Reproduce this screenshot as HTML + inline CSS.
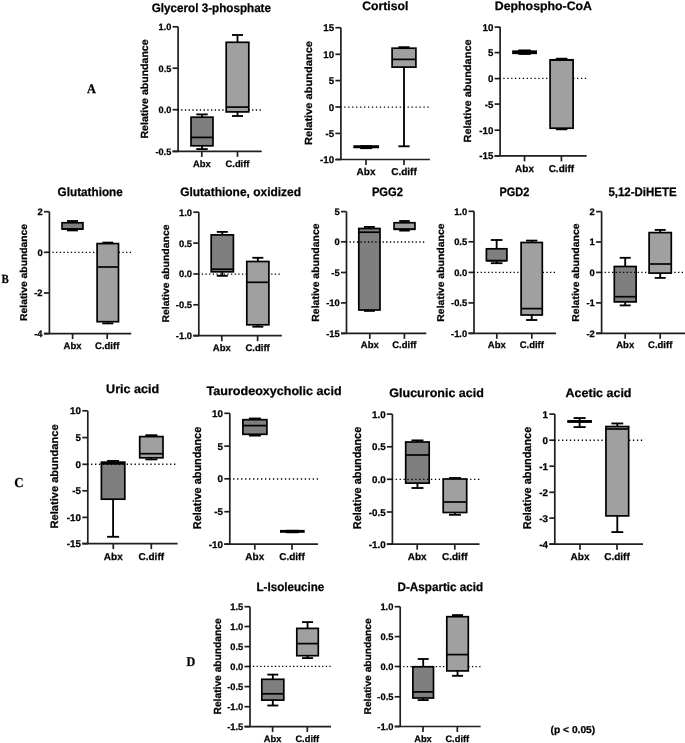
<!DOCTYPE html>
<html><head><meta charset="utf-8"><style>
html,body{margin:0;padding:0;background:#fff;}
body{width:685px;height:743px;overflow:hidden;}
svg{display:block;will-change:transform;}
text{font-family:"Liberation Sans",sans-serif;font-weight:bold;fill:#000;stroke:#000;stroke-width:0.25px;text-rendering:geometricPrecision;}
.ax{stroke:#1f1f1f;stroke-width:1.7;}
.wh{stroke:#000;stroke-width:1.85;}
.bx{stroke:#000;stroke-width:1.7;}
.md{stroke:#000;stroke-width:1.7;}
.dot{stroke:#000;stroke-width:1.35;}
.yt{font-size:9px;text-anchor:end;}
.xl{font-size:9.5px;text-anchor:middle;}
.tt{font-size:12.2px;}
.yl{font-size:10px;text-anchor:middle;}
.lt{font-family:"Liberation Serif",serif;font-size:12.5px;}
.pv{font-size:10px;}
</style></head><body>
<svg width="685" height="743" viewBox="0 0 685 743">
<g><line x1="178.1" y1="26.8" x2="178.1" y2="151.4" class="ax"/><line x1="172.6" y1="26.8" x2="178.1" y2="26.8" class="ax"/><text x="171.3" y="30.2" class="yt" style="font-size:9.2px">1.0</text><line x1="172.6" y1="68.2" x2="178.1" y2="68.2" class="ax"/><text x="171.3" y="71.6" class="yt" style="font-size:9.2px">0.5</text><line x1="172.6" y1="109.7" x2="178.1" y2="109.7" class="ax"/><text x="171.3" y="113.1" class="yt" style="font-size:9.2px">0.0</text><line x1="172.6" y1="151.4" x2="178.1" y2="151.4" class="ax"/><text x="171.3" y="154.8" class="yt" style="font-size:9.2px">-0.5</text><line x1="172.6" y1="151.4" x2="261.7" y2="151.4" class="ax"/><line x1="201.8" y1="151.4" x2="201.8" y2="156.9" class="ax"/><line x1="237.5" y1="151.4" x2="237.5" y2="156.9" class="ax"/><line x1="202" y1="114.4" x2="202" y2="117.2" class="wh"/><line x1="202" y1="145.8" x2="202" y2="149.1" class="wh"/><line x1="196.3" y1="114.4" x2="207.7" y2="114.4" class="wh"/><line x1="196.3" y1="149.1" x2="207.7" y2="149.1" class="wh"/><rect x="191" y="117.2" width="22" height="28.6" fill="#7f7f7f" class="bx"/><line x1="191" y1="137.4" x2="213" y2="137.4" class="md"/><line x1="177.45" y1="110" x2="261.7" y2="110" class="dot" stroke-dasharray="1.3 2.43"/><line x1="237.5" y1="35" x2="237.5" y2="42.3" class="wh"/><line x1="237.5" y1="111.9" x2="237.5" y2="116" class="wh"/><line x1="232" y1="35" x2="243" y2="35" class="wh"/><line x1="232" y1="116" x2="243" y2="116" class="wh"/><rect x="226.2" y="42.3" width="22.6" height="69.6" fill="#a0a0a0" class="bx"/><line x1="226.2" y1="107.1" x2="248.8" y2="107.1" class="md"/><text x="201.8" y="166.6" class="xl" style="font-size:9.4px">Abx</text><text x="237.5" y="166.6" class="xl" style="font-size:9.4px">C.diff</text><text x="151.8" y="11.7" class="tt" textLength="119.2" lengthAdjust="spacingAndGlyphs">Glycerol 3-phosphate</text><text transform="translate(147.85,88.95) rotate(-90)" class="yl" style="font-size:10.32px" textLength="99.1" lengthAdjust="spacingAndGlyphs">Relative abundance</text></g>
<g><line x1="340.9" y1="27.7" x2="340.9" y2="159.5" class="ax"/><line x1="335.4" y1="27.7" x2="340.9" y2="27.7" class="ax"/><text x="334.1" y="31.29" class="yt" style="font-size:9.7px">15</text><line x1="335.4" y1="54.3" x2="340.9" y2="54.3" class="ax"/><text x="334.1" y="57.89" class="yt" style="font-size:9.7px">10</text><line x1="335.4" y1="80.6" x2="340.9" y2="80.6" class="ax"/><text x="334.1" y="84.19" class="yt" style="font-size:9.7px">5</text><line x1="335.4" y1="107" x2="340.9" y2="107" class="ax"/><text x="334.1" y="110.59" class="yt" style="font-size:9.7px">0</text><line x1="335.4" y1="133.4" x2="340.9" y2="133.4" class="ax"/><text x="334.1" y="136.99" class="yt" style="font-size:9.7px">-5</text><line x1="335.4" y1="159.5" x2="340.9" y2="159.5" class="ax"/><text x="334.1" y="163.09" class="yt" style="font-size:9.7px">-10</text><line x1="335.4" y1="159.5" x2="429.9" y2="159.5" class="ax"/><line x1="366" y1="159.5" x2="366" y2="165" class="ax"/><line x1="404" y1="159.5" x2="404" y2="165" class="ax"/><line x1="366.2" y1="146.1" x2="366.2" y2="146.1" class="wh"/><line x1="366.2" y1="147.4" x2="366.2" y2="148.2" class="wh"/><line x1="360.2" y1="146.1" x2="372.2" y2="146.1" class="wh"/><line x1="360.2" y1="148.2" x2="372.2" y2="148.2" class="wh"/><rect x="354.2" y="146.1" width="24" height="1.3" fill="#7f7f7f" class="bx"/><line x1="354.2" y1="146.8" x2="378.2" y2="146.8" class="md"/><line x1="340.25" y1="107.1" x2="429.9" y2="107.1" class="dot" stroke-dasharray="1.3 2.66"/><line x1="404" y1="47.2" x2="404" y2="48.2" class="wh"/><line x1="404" y1="67.1" x2="404" y2="146.3" class="wh"/><line x1="398.4" y1="47.2" x2="409.6" y2="47.2" class="wh"/><line x1="398.4" y1="146.3" x2="409.6" y2="146.3" class="wh"/><rect x="392.1" y="48.2" width="23.8" height="18.9" fill="#a0a0a0" class="bx"/><line x1="392.1" y1="59.4" x2="415.9" y2="59.4" class="md"/><text x="366" y="175.1" class="xl" style="font-size:10px">Abx</text><text x="404" y="175.1" class="xl" style="font-size:10px">C.diff</text><text x="362.2" y="10.4" class="tt" textLength="46.2" lengthAdjust="spacingAndGlyphs">Cortisol</text><text transform="translate(311.85,93) rotate(-90)" class="yl" style="font-size:10.32px" textLength="104" lengthAdjust="spacingAndGlyphs">Relative abundance</text></g>
<g><line x1="500.1" y1="27.1" x2="500.1" y2="155.9" class="ax"/><line x1="494.6" y1="27.1" x2="500.1" y2="27.1" class="ax"/><text x="493.3" y="30.69" class="yt" style="font-size:9.7px">10</text><line x1="494.6" y1="52.6" x2="500.1" y2="52.6" class="ax"/><text x="493.3" y="56.19" class="yt" style="font-size:9.7px">5</text><line x1="494.6" y1="78.6" x2="500.1" y2="78.6" class="ax"/><text x="493.3" y="82.19" class="yt" style="font-size:9.7px">0</text><line x1="494.6" y1="104.1" x2="500.1" y2="104.1" class="ax"/><text x="493.3" y="107.69" class="yt" style="font-size:9.7px">-5</text><line x1="494.6" y1="130.2" x2="500.1" y2="130.2" class="ax"/><text x="493.3" y="133.79" class="yt" style="font-size:9.7px">-10</text><line x1="494.6" y1="155.9" x2="500.1" y2="155.9" class="ax"/><text x="493.3" y="159.49" class="yt" style="font-size:9.7px">-15</text><line x1="494.6" y1="155.9" x2="586.7" y2="155.9" class="ax"/><line x1="524.5" y1="155.9" x2="524.5" y2="161.4" class="ax"/><line x1="561.4" y1="155.9" x2="561.4" y2="161.4" class="ax"/><line x1="524.55" y1="50.4" x2="524.55" y2="51.2" class="wh"/><line x1="524.55" y1="53.3" x2="524.55" y2="54" class="wh"/><line x1="518.35" y1="50.4" x2="530.75" y2="50.4" class="wh"/><line x1="518.35" y1="54" x2="530.75" y2="54" class="wh"/><rect x="513" y="51.2" width="23.1" height="2.1" fill="#7f7f7f" class="bx"/><line x1="513" y1="52.2" x2="536.1" y2="52.2" class="md"/><line x1="499.45" y1="78.4" x2="586.7" y2="78.4" class="dot" stroke-dasharray="1.3 2.58"/><line x1="561.6" y1="58.7" x2="561.6" y2="59.8" class="wh"/><line x1="561.6" y1="128.2" x2="561.6" y2="129.3" class="wh"/><line x1="555.8" y1="58.7" x2="567.4" y2="58.7" class="wh"/><line x1="555.8" y1="129.3" x2="567.4" y2="129.3" class="wh"/><rect x="550.1" y="59.8" width="23" height="68.4" fill="#a0a0a0" class="bx"/><line x1="550.1" y1="60.1" x2="573.1" y2="60.1" class="md"/><text x="524.5" y="171.6" class="xl" style="font-size:10px">Abx</text><text x="561.4" y="171.6" class="xl" style="font-size:10px">C.diff</text><text x="494.8" y="10.4" class="tt" textLength="97.2" lengthAdjust="spacingAndGlyphs">Dephospho-CoA</text><text transform="translate(471.45,90.95) rotate(-90)" class="yl" style="font-size:10.32px" textLength="103.1" lengthAdjust="spacingAndGlyphs">Relative abundance</text></g>
<g><line x1="49.4" y1="211.7" x2="49.4" y2="333.6" class="ax"/><line x1="43.9" y1="211.7" x2="49.4" y2="211.7" class="ax"/><text x="42.6" y="215.18" class="yt" style="font-size:9.4px">2</text><line x1="43.9" y1="252.3" x2="49.4" y2="252.3" class="ax"/><text x="42.6" y="255.78" class="yt" style="font-size:9.4px">0</text><line x1="43.9" y1="293" x2="49.4" y2="293" class="ax"/><text x="42.6" y="296.48" class="yt" style="font-size:9.4px">-2</text><line x1="43.9" y1="333.6" x2="49.4" y2="333.6" class="ax"/><text x="42.6" y="337.08" class="yt" style="font-size:9.4px">-4</text><line x1="43.9" y1="333.6" x2="131.2" y2="333.6" class="ax"/><line x1="72.6" y1="333.6" x2="72.6" y2="339.1" class="ax"/><line x1="107.2" y1="333.6" x2="107.2" y2="339.1" class="ax"/><line x1="72.5" y1="221" x2="72.5" y2="222.75" class="wh"/><line x1="72.5" y1="229.05" x2="72.5" y2="230.4" class="wh"/><line x1="67" y1="221" x2="78" y2="221" class="wh"/><line x1="67" y1="230.4" x2="78" y2="230.4" class="wh"/><rect x="62.05" y="222.75" width="20.9" height="6.3" fill="#7f7f7f" class="bx"/><line x1="62.05" y1="229.05" x2="82.95" y2="229.05" class="md"/><line x1="48.75" y1="252.4" x2="131.2" y2="252.4" class="dot" stroke-dasharray="1.3 2.38"/><line x1="107.8" y1="242.6" x2="107.8" y2="243.6" class="wh"/><line x1="107.8" y1="321.7" x2="107.8" y2="323.4" class="wh"/><line x1="102.3" y1="242.6" x2="113.3" y2="242.6" class="wh"/><line x1="102.3" y1="323.4" x2="113.3" y2="323.4" class="wh"/><rect x="97.1" y="243.6" width="21.4" height="78.1" fill="#a0a0a0" class="bx"/><line x1="97.1" y1="267" x2="118.5" y2="267" class="md"/><text x="72.6" y="348.5" class="xl" style="font-size:9.5px">Abx</text><text x="107.2" y="348.5" class="xl" style="font-size:9.5px">C.diff</text><text x="57.6" y="195.7" class="tt" textLength="65.2" lengthAdjust="spacingAndGlyphs">Glutathione</text><text transform="translate(27.15,272.4) rotate(-90)" class="yl" style="font-size:9.94px" textLength="97" lengthAdjust="spacingAndGlyphs">Relative abundance</text></g>
<g><line x1="198.8" y1="212.2" x2="198.8" y2="335.7" class="ax"/><line x1="193.3" y1="212.2" x2="198.8" y2="212.2" class="ax"/><text x="192" y="215.68" class="yt" style="font-size:9.4px">1.0</text><line x1="193.3" y1="243.1" x2="198.8" y2="243.1" class="ax"/><text x="192" y="246.58" class="yt" style="font-size:9.4px">0.5</text><line x1="193.3" y1="274" x2="198.8" y2="274" class="ax"/><text x="192" y="277.48" class="yt" style="font-size:9.4px">0.0</text><line x1="193.3" y1="304.8" x2="198.8" y2="304.8" class="ax"/><text x="192" y="308.28" class="yt" style="font-size:9.4px">-0.5</text><line x1="193.3" y1="335.7" x2="198.8" y2="335.7" class="ax"/><text x="192" y="339.18" class="yt" style="font-size:9.4px">-1.0</text><line x1="193.3" y1="335.7" x2="281.8" y2="335.7" class="ax"/><line x1="221.8" y1="335.7" x2="221.8" y2="341.2" class="ax"/><line x1="257.6" y1="335.7" x2="257.6" y2="341.2" class="ax"/><line x1="222.3" y1="231.9" x2="222.3" y2="234.9" class="wh"/><line x1="222.3" y1="271.8" x2="222.3" y2="275.8" class="wh"/><line x1="216.8" y1="231.9" x2="227.8" y2="231.9" class="wh"/><line x1="216.8" y1="275.8" x2="227.8" y2="275.8" class="wh"/><rect x="211.2" y="234.9" width="22.2" height="36.9" fill="#7f7f7f" class="bx"/><line x1="211.2" y1="269.2" x2="233.4" y2="269.2" class="md"/><line x1="198.15" y1="274.1" x2="281.8" y2="274.1" class="dot" stroke-dasharray="1.3 2.35"/><line x1="257.85" y1="257.8" x2="257.85" y2="261.5" class="wh"/><line x1="257.85" y1="324.8" x2="257.85" y2="326.7" class="wh"/><line x1="252.35" y1="257.8" x2="263.35" y2="257.8" class="wh"/><line x1="252.35" y1="326.7" x2="263.35" y2="326.7" class="wh"/><rect x="246.8" y="261.5" width="22.1" height="63.3" fill="#a0a0a0" class="bx"/><line x1="246.8" y1="282.3" x2="268.9" y2="282.3" class="md"/><text x="221.8" y="351" class="xl" style="font-size:9.5px">Abx</text><text x="257.6" y="351" class="xl" style="font-size:9.5px">C.diff</text><text x="180.2" y="196.4" class="tt" textLength="120.8" lengthAdjust="spacingAndGlyphs">Glutathione, oxidized</text><text transform="translate(168.65,273.5) rotate(-90)" class="yl" style="font-size:9.81px" textLength="98" lengthAdjust="spacingAndGlyphs">Relative abundance</text></g>
<g><line x1="346.5" y1="211.6" x2="346.5" y2="333.4" class="ax"/><line x1="341" y1="211.6" x2="346.5" y2="211.6" class="ax"/><text x="339.7" y="215.08" class="yt" style="font-size:9.4px">5</text><line x1="341" y1="241.8" x2="346.5" y2="241.8" class="ax"/><text x="339.7" y="245.28" class="yt" style="font-size:9.4px">0</text><line x1="341" y1="272.5" x2="346.5" y2="272.5" class="ax"/><text x="339.7" y="275.98" class="yt" style="font-size:9.4px">-5</text><line x1="341" y1="302.9" x2="346.5" y2="302.9" class="ax"/><text x="339.7" y="306.38" class="yt" style="font-size:9.4px">-10</text><line x1="341" y1="333.4" x2="346.5" y2="333.4" class="ax"/><text x="339.7" y="336.88" class="yt" style="font-size:9.4px">-15</text><line x1="341" y1="333.4" x2="426.3" y2="333.4" class="ax"/><line x1="369.8" y1="333.4" x2="369.8" y2="338.9" class="ax"/><line x1="404.4" y1="333.4" x2="404.4" y2="338.9" class="ax"/><line x1="369.4" y1="226.9" x2="369.4" y2="228.5" class="wh"/><line x1="369.4" y1="310" x2="369.4" y2="310.9" class="wh"/><line x1="363.9" y1="226.9" x2="374.9" y2="226.9" class="wh"/><line x1="363.9" y1="310.9" x2="374.9" y2="310.9" class="wh"/><rect x="358.8" y="228.5" width="21.2" height="81.5" fill="#7f7f7f" class="bx"/><line x1="358.8" y1="232.2" x2="380" y2="232.2" class="md"/><line x1="345.85" y1="242" x2="426.3" y2="242" class="dot" stroke-dasharray="1.3 2.37"/><line x1="404.5" y1="221" x2="404.5" y2="222.75" class="wh"/><line x1="404.5" y1="229.25" x2="404.5" y2="230.6" class="wh"/><line x1="399.2" y1="221" x2="409.8" y2="221" class="wh"/><line x1="399.2" y1="230.6" x2="409.8" y2="230.6" class="wh"/><rect x="394.05" y="222.75" width="20.9" height="6.5" fill="#a0a0a0" class="bx"/><line x1="394.05" y1="229.25" x2="414.95" y2="229.25" class="md"/><text x="369.8" y="348.3" class="xl" style="font-size:9.5px">Abx</text><text x="404.4" y="348.3" class="xl" style="font-size:9.5px">C.diff</text><text x="371.9" y="195.6" class="tt" textLength="31.1" lengthAdjust="spacingAndGlyphs">PGG2</text><text transform="translate(319.45,272.55) rotate(-90)" class="yl" style="font-size:10.32px" textLength="98.3" lengthAdjust="spacingAndGlyphs">Relative abundance</text></g>
<g><line x1="474" y1="211.3" x2="474" y2="333.3" class="ax"/><line x1="468.5" y1="211.3" x2="474" y2="211.3" class="ax"/><text x="467.2" y="214.78" class="yt" style="font-size:9.4px">1.0</text><line x1="468.5" y1="241.8" x2="474" y2="241.8" class="ax"/><text x="467.2" y="245.28" class="yt" style="font-size:9.4px">0.5</text><line x1="468.5" y1="272.4" x2="474" y2="272.4" class="ax"/><text x="467.2" y="275.88" class="yt" style="font-size:9.4px">0.0</text><line x1="468.5" y1="302.9" x2="474" y2="302.9" class="ax"/><text x="467.2" y="306.38" class="yt" style="font-size:9.4px">-0.5</text><line x1="468.5" y1="333.3" x2="474" y2="333.3" class="ax"/><text x="467.2" y="336.78" class="yt" style="font-size:9.4px">-1.0</text><line x1="468.5" y1="333.3" x2="556.1" y2="333.3" class="ax"/><line x1="496.8" y1="333.3" x2="496.8" y2="338.8" class="ax"/><line x1="531.8" y1="333.3" x2="531.8" y2="338.8" class="ax"/><line x1="496.65" y1="240" x2="496.65" y2="248.8" class="wh"/><line x1="496.65" y1="260.7" x2="496.65" y2="263.2" class="wh"/><line x1="490.85" y1="240" x2="502.45" y2="240" class="wh"/><line x1="490.85" y1="263.2" x2="502.45" y2="263.2" class="wh"/><rect x="486.4" y="248.8" width="20.5" height="11.9" fill="#7f7f7f" class="bx"/><line x1="486.4" y1="260.7" x2="506.9" y2="260.7" class="md"/><line x1="473.35" y1="272.4" x2="556.1" y2="272.4" class="dot" stroke-dasharray="1.3 2.35"/><line x1="531.7" y1="240.6" x2="531.7" y2="242.5" class="wh"/><line x1="531.7" y1="315" x2="531.7" y2="320" class="wh"/><line x1="526.05" y1="240.6" x2="537.35" y2="240.6" class="wh"/><line x1="526.05" y1="320" x2="537.35" y2="320" class="wh"/><rect x="521.1" y="242.5" width="21.2" height="72.5" fill="#a0a0a0" class="bx"/><line x1="521.1" y1="308.6" x2="542.3" y2="308.6" class="md"/><text x="496.8" y="348.3" class="xl" style="font-size:9.5px">Abx</text><text x="531.8" y="348.3" class="xl" style="font-size:9.5px">C.diff</text><text x="499.4" y="195.6" class="tt" textLength="29.9" lengthAdjust="spacingAndGlyphs">PGD2</text><text transform="translate(443.85,272.55) rotate(-90)" class="yl" style="font-size:9.94px" textLength="98.3" lengthAdjust="spacingAndGlyphs">Relative abundance</text></g>
<g><line x1="601.6" y1="211.6" x2="601.6" y2="333.3" class="ax"/><line x1="596.1" y1="211.6" x2="601.6" y2="211.6" class="ax"/><text x="594.8" y="215.08" class="yt" style="font-size:9.4px">2</text><line x1="596.1" y1="242" x2="601.6" y2="242" class="ax"/><text x="594.8" y="245.48" class="yt" style="font-size:9.4px">1</text><line x1="596.1" y1="272.4" x2="601.6" y2="272.4" class="ax"/><text x="594.8" y="275.88" class="yt" style="font-size:9.4px">0</text><line x1="596.1" y1="302.9" x2="601.6" y2="302.9" class="ax"/><text x="594.8" y="306.38" class="yt" style="font-size:9.4px">-1</text><line x1="596.1" y1="333.3" x2="601.6" y2="333.3" class="ax"/><text x="594.8" y="336.78" class="yt" style="font-size:9.4px">-2</text><line x1="596.1" y1="333.3" x2="685" y2="333.3" class="ax"/><line x1="625.2" y1="333.3" x2="625.2" y2="338.8" class="ax"/><line x1="660.2" y1="333.3" x2="660.2" y2="338.8" class="ax"/><line x1="625.2" y1="257.8" x2="625.2" y2="266.5" class="wh"/><line x1="625.2" y1="301.9" x2="625.2" y2="305.4" class="wh"/><line x1="619.7" y1="257.8" x2="630.7" y2="257.8" class="wh"/><line x1="619.7" y1="305.4" x2="630.7" y2="305.4" class="wh"/><rect x="614.3" y="266.5" width="21.8" height="35.4" fill="#7f7f7f" class="bx"/><line x1="614.3" y1="296.7" x2="636.1" y2="296.7" class="md"/><line x1="600.95" y1="272.4" x2="685" y2="272.4" class="dot" stroke-dasharray="1.3 2.37"/><line x1="660.2" y1="229.9" x2="660.2" y2="232.6" class="wh"/><line x1="660.2" y1="273.1" x2="660.2" y2="277.9" class="wh"/><line x1="654.7" y1="229.9" x2="665.7" y2="229.9" class="wh"/><line x1="654.7" y1="277.9" x2="665.7" y2="277.9" class="wh"/><rect x="649.1" y="232.6" width="22.2" height="40.5" fill="#a0a0a0" class="bx"/><line x1="649.1" y1="264" x2="671.3" y2="264" class="md"/><text x="625.2" y="348.3" class="xl" style="font-size:9.5px">Abx</text><text x="660.2" y="348.3" class="xl" style="font-size:9.5px">C.diff</text><text x="608.4" y="195.6" class="tt" textLength="68.3" lengthAdjust="spacingAndGlyphs">5,12-DiHETE</text><text transform="translate(579.15,272.55) rotate(-90)" class="yl" style="font-size:9.94px" textLength="98.3" lengthAdjust="spacingAndGlyphs">Relative abundance</text></g>
<g><line x1="87.8" y1="410.8" x2="87.8" y2="543.6" class="ax"/><line x1="82.3" y1="410.8" x2="87.8" y2="410.8" class="ax"/><text x="81" y="414.43" class="yt" style="font-size:9.8px">10</text><line x1="82.3" y1="437.6" x2="87.8" y2="437.6" class="ax"/><text x="81" y="441.23" class="yt" style="font-size:9.8px">5</text><line x1="82.3" y1="464.3" x2="87.8" y2="464.3" class="ax"/><text x="81" y="467.93" class="yt" style="font-size:9.8px">0</text><line x1="82.3" y1="490.8" x2="87.8" y2="490.8" class="ax"/><text x="81" y="494.43" class="yt" style="font-size:9.8px">-5</text><line x1="82.3" y1="517.4" x2="87.8" y2="517.4" class="ax"/><text x="81" y="521.03" class="yt" style="font-size:9.8px">-10</text><line x1="82.3" y1="543.6" x2="87.8" y2="543.6" class="ax"/><text x="81" y="547.23" class="yt" style="font-size:9.8px">-15</text><line x1="82.3" y1="543.6" x2="177.6" y2="543.6" class="ax"/><line x1="113.3" y1="543.6" x2="113.3" y2="549.1" class="ax"/><line x1="151.3" y1="543.6" x2="151.3" y2="549.1" class="ax"/><line x1="113.1" y1="460.9" x2="113.1" y2="462.15" class="wh"/><line x1="113.1" y1="499.2" x2="113.1" y2="536.8" class="wh"/><line x1="107.1" y1="460.9" x2="119.1" y2="460.9" class="wh"/><line x1="107.1" y1="536.8" x2="119.1" y2="536.8" class="wh"/><rect x="101.4" y="462.15" width="23.4" height="37.05" fill="#7f7f7f" class="bx"/><line x1="101.4" y1="463.8" x2="124.8" y2="463.8" class="md"/><line x1="87.15" y1="464.2" x2="177.6" y2="464.2" class="dot" stroke-dasharray="1.3 2.65"/><line x1="151.35" y1="435.2" x2="151.35" y2="436.6" class="wh"/><line x1="151.35" y1="457.8" x2="151.35" y2="459.4" class="wh"/><line x1="145.35" y1="435.2" x2="157.35" y2="435.2" class="wh"/><line x1="145.35" y1="459.4" x2="157.35" y2="459.4" class="wh"/><rect x="139.7" y="436.6" width="23.3" height="21.2" fill="#a0a0a0" class="bx"/><line x1="139.7" y1="453.7" x2="163" y2="453.7" class="md"/><text x="113.3" y="560.4" class="xl" style="font-size:10px">Abx</text><text x="151.3" y="560.4" class="xl" style="font-size:10px">C.diff</text><text x="106.1" y="393.4" class="tt" textLength="53.1" lengthAdjust="spacingAndGlyphs">Uric acid</text><text transform="translate(58.25,476.4) rotate(-90)" class="yl" style="font-size:10.83px" textLength="104" lengthAdjust="spacingAndGlyphs">Relative abundance</text></g>
<g><line x1="229.8" y1="413.3" x2="229.8" y2="544.2" class="ax"/><line x1="224.3" y1="413.3" x2="229.8" y2="413.3" class="ax"/><text x="223" y="416.93" class="yt" style="font-size:9.8px">10</text><line x1="224.3" y1="446.1" x2="229.8" y2="446.1" class="ax"/><text x="223" y="449.73" class="yt" style="font-size:9.8px">5</text><line x1="224.3" y1="478.8" x2="229.8" y2="478.8" class="ax"/><text x="223" y="482.43" class="yt" style="font-size:9.8px">0</text><line x1="224.3" y1="511.7" x2="229.8" y2="511.7" class="ax"/><text x="223" y="515.33" class="yt" style="font-size:9.8px">-5</text><line x1="224.3" y1="544.2" x2="229.8" y2="544.2" class="ax"/><text x="223" y="547.83" class="yt" style="font-size:9.8px">-10</text><line x1="224.3" y1="544.2" x2="318" y2="544.2" class="ax"/><line x1="254.8" y1="544.2" x2="254.8" y2="549.7" class="ax"/><line x1="292" y1="544.2" x2="292" y2="549.7" class="ax"/><line x1="254.9" y1="418.5" x2="254.9" y2="419.7" class="wh"/><line x1="254.9" y1="434.3" x2="254.9" y2="435.6" class="wh"/><line x1="248.9" y1="418.5" x2="260.9" y2="418.5" class="wh"/><line x1="248.9" y1="435.6" x2="260.9" y2="435.6" class="wh"/><rect x="242.9" y="419.7" width="24" height="14.6" fill="#7f7f7f" class="bx"/><line x1="242.9" y1="425.6" x2="266.9" y2="425.6" class="md"/><line x1="229.15" y1="479" x2="318" y2="479" class="dot" stroke-dasharray="1.3 2.68"/><line x1="292.35" y1="530.75" x2="292.35" y2="530.75" class="wh"/><line x1="292.35" y1="531.95" x2="292.35" y2="532.3" class="wh"/><line x1="285.95" y1="530.75" x2="298.75" y2="530.75" class="wh"/><line x1="285.95" y1="532.3" x2="298.75" y2="532.3" class="wh"/><rect x="280.85" y="530.75" width="23" height="1.2" fill="#a0a0a0" class="bx"/><line x1="280.85" y1="531.35" x2="303.85" y2="531.35" class="md"/><text x="254.8" y="559.8" class="xl" style="font-size:10px">Abx</text><text x="292" y="559.8" class="xl" style="font-size:10px">C.diff</text><text x="206.6" y="395.4" class="tt" textLength="135" lengthAdjust="spacingAndGlyphs">Taurodeoxycholic acid</text><text transform="translate(200.65,478) rotate(-90)" class="yl" style="font-size:11.34px" textLength="102.4" lengthAdjust="spacingAndGlyphs">Relative abundance</text></g>
<g><line x1="392.4" y1="414.1" x2="392.4" y2="544.2" class="ax"/><line x1="386.9" y1="414.1" x2="392.4" y2="414.1" class="ax"/><text x="385.6" y="417.73" class="yt" style="font-size:9.8px">1.0</text><line x1="386.9" y1="446.8" x2="392.4" y2="446.8" class="ax"/><text x="385.6" y="450.43" class="yt" style="font-size:9.8px">0.5</text><line x1="386.9" y1="479.3" x2="392.4" y2="479.3" class="ax"/><text x="385.6" y="482.93" class="yt" style="font-size:9.8px">0.0</text><line x1="386.9" y1="512" x2="392.4" y2="512" class="ax"/><text x="385.6" y="515.63" class="yt" style="font-size:9.8px">-0.5</text><line x1="386.9" y1="544.2" x2="392.4" y2="544.2" class="ax"/><text x="385.6" y="547.83" class="yt" style="font-size:9.8px">-1.0</text><line x1="386.9" y1="544.2" x2="479.5" y2="544.2" class="ax"/><line x1="417.2" y1="544.2" x2="417.2" y2="549.7" class="ax"/><line x1="454.8" y1="544.2" x2="454.8" y2="549.7" class="ax"/><line x1="417.45" y1="440.4" x2="417.45" y2="442" class="wh"/><line x1="417.45" y1="483.1" x2="417.45" y2="488" class="wh"/><line x1="411.45" y1="440.4" x2="423.45" y2="440.4" class="wh"/><line x1="411.45" y1="488" x2="423.45" y2="488" class="wh"/><rect x="405.7" y="442" width="23.5" height="41.1" fill="#7f7f7f" class="bx"/><line x1="405.7" y1="455" x2="429.2" y2="455" class="md"/><line x1="391.75" y1="479.4" x2="479.5" y2="479.4" class="dot" stroke-dasharray="1.3 2.62"/><line x1="454.95" y1="478" x2="454.95" y2="479" class="wh"/><line x1="454.95" y1="512.5" x2="454.95" y2="514.8" class="wh"/><line x1="448.95" y1="478" x2="460.95" y2="478" class="wh"/><line x1="448.95" y1="514.8" x2="460.95" y2="514.8" class="wh"/><rect x="443.2" y="479" width="23.5" height="33.5" fill="#a0a0a0" class="bx"/><line x1="443.2" y1="502" x2="466.7" y2="502" class="md"/><text x="417.2" y="560.3" class="xl" style="font-size:10px">Abx</text><text x="454.8" y="560.3" class="xl" style="font-size:10px">C.diff</text><text x="389.3" y="396.7" class="tt" textLength="94.6" lengthAdjust="spacingAndGlyphs">Glucuronic acid</text><text transform="translate(360.65,478) rotate(-90)" class="yl" style="font-size:11.34px" textLength="102.4" lengthAdjust="spacingAndGlyphs">Relative abundance</text></g>
<g><line x1="554.8" y1="414.1" x2="554.8" y2="544.2" class="ax"/><line x1="549.3" y1="414.1" x2="554.8" y2="414.1" class="ax"/><text x="548" y="417.73" class="yt" style="font-size:9.8px">1</text><line x1="549.3" y1="440.2" x2="554.8" y2="440.2" class="ax"/><text x="548" y="443.83" class="yt" style="font-size:9.8px">0</text><line x1="549.3" y1="466.2" x2="554.8" y2="466.2" class="ax"/><text x="548" y="469.83" class="yt" style="font-size:9.8px">-1</text><line x1="549.3" y1="492.3" x2="554.8" y2="492.3" class="ax"/><text x="548" y="495.93" class="yt" style="font-size:9.8px">-2</text><line x1="549.3" y1="518.1" x2="554.8" y2="518.1" class="ax"/><text x="548" y="521.73" class="yt" style="font-size:9.8px">-3</text><line x1="549.3" y1="544.2" x2="554.8" y2="544.2" class="ax"/><text x="548" y="547.83" class="yt" style="font-size:9.8px">-4</text><line x1="549.3" y1="544.2" x2="643" y2="544.2" class="ax"/><line x1="580" y1="544.2" x2="580" y2="549.7" class="ax"/><line x1="617" y1="544.2" x2="617" y2="549.7" class="ax"/><line x1="579.6" y1="418.05" x2="579.6" y2="420.85" class="wh"/><line x1="579.6" y1="422.05" x2="579.6" y2="427.1" class="wh"/><line x1="573.55" y1="418.05" x2="585.65" y2="418.05" class="wh"/><line x1="573.55" y1="427.1" x2="585.65" y2="427.1" class="wh"/><rect x="568.1" y="420.85" width="23" height="1.2" fill="#7f7f7f" class="bx"/><line x1="568.1" y1="421.45" x2="591.1" y2="421.45" class="md"/><line x1="554.15" y1="440.2" x2="643" y2="440.2" class="dot" stroke-dasharray="1.3 2.64"/><line x1="617.3" y1="423.45" x2="617.3" y2="426.55" class="wh"/><line x1="617.3" y1="515.9" x2="617.3" y2="532.1" class="wh"/><line x1="611.35" y1="423.45" x2="623.25" y2="423.45" class="wh"/><line x1="611.35" y1="532.1" x2="623.25" y2="532.1" class="wh"/><rect x="605.95" y="426.55" width="22.7" height="89.35" fill="#a0a0a0" class="bx"/><line x1="605.95" y1="429" x2="628.65" y2="429" class="md"/><text x="580" y="560.3" class="xl" style="font-size:10px">Abx</text><text x="617" y="560.3" class="xl" style="font-size:10px">C.diff</text><text x="565.6" y="396.7" class="tt" textLength="65.9" lengthAdjust="spacingAndGlyphs">Acetic acid</text><text transform="translate(530.65,478) rotate(-90)" class="yl" style="font-size:11.34px" textLength="102.4" lengthAdjust="spacingAndGlyphs">Relative abundance</text></g>
<g><line x1="250" y1="606.7" x2="250" y2="726.6" class="ax"/><line x1="244.5" y1="606.7" x2="250" y2="606.7" class="ax"/><text x="243.2" y="610.14" class="yt" style="font-size:9.3px">1.5</text><line x1="244.5" y1="626.5" x2="250" y2="626.5" class="ax"/><text x="243.2" y="629.94" class="yt" style="font-size:9.3px">1.0</text><line x1="244.5" y1="646.6" x2="250" y2="646.6" class="ax"/><text x="243.2" y="650.04" class="yt" style="font-size:9.3px">0.5</text><line x1="244.5" y1="666.5" x2="250" y2="666.5" class="ax"/><text x="243.2" y="669.94" class="yt" style="font-size:9.3px">0.0</text><line x1="244.5" y1="686.6" x2="250" y2="686.6" class="ax"/><text x="243.2" y="690.04" class="yt" style="font-size:9.3px">-0.5</text><line x1="244.5" y1="706.7" x2="250" y2="706.7" class="ax"/><text x="243.2" y="710.14" class="yt" style="font-size:9.3px">-1.0</text><line x1="244.5" y1="726.6" x2="250" y2="726.6" class="ax"/><text x="243.2" y="730.04" class="yt" style="font-size:9.3px">-1.5</text><line x1="244.5" y1="726.6" x2="331" y2="726.6" class="ax"/><line x1="272.6" y1="726.6" x2="272.6" y2="732.1" class="ax"/><line x1="307.3" y1="726.6" x2="307.3" y2="732.1" class="ax"/><line x1="272.8" y1="674.6" x2="272.8" y2="679.3" class="wh"/><line x1="272.8" y1="700.1" x2="272.8" y2="705.5" class="wh"/><line x1="267.3" y1="674.6" x2="278.3" y2="674.6" class="wh"/><line x1="267.3" y1="705.5" x2="278.3" y2="705.5" class="wh"/><rect x="261.8" y="679.3" width="22" height="20.8" fill="#7f7f7f" class="bx"/><line x1="261.8" y1="693.8" x2="283.8" y2="693.8" class="md"/><line x1="249.35" y1="666.4" x2="331" y2="666.4" class="dot" stroke-dasharray="1.3 2.34"/><line x1="307.55" y1="622.1" x2="307.55" y2="628.4" class="wh"/><line x1="307.55" y1="655.7" x2="307.55" y2="658.1" class="wh"/><line x1="302.05" y1="622.1" x2="313.05" y2="622.1" class="wh"/><line x1="302.05" y1="658.1" x2="313.05" y2="658.1" class="wh"/><rect x="296.8" y="628.4" width="21.5" height="27.3" fill="#a0a0a0" class="bx"/><line x1="296.8" y1="643.6" x2="318.3" y2="643.6" class="md"/><text x="272.6" y="741.5" class="xl" style="font-size:9.3px">Abx</text><text x="307.3" y="741.5" class="xl" style="font-size:9.3px">C.diff</text><text x="256.5" y="590.6" class="tt" textLength="67.7" lengthAdjust="spacingAndGlyphs">L-Isoleucine</text><text transform="translate(220.65,666.4) rotate(-90)" class="yl" style="font-size:10.32px" textLength="96.2" lengthAdjust="spacingAndGlyphs">Relative abundance</text></g>
<g><line x1="400.2" y1="606.7" x2="400.2" y2="726.5" class="ax"/><line x1="394.7" y1="606.7" x2="400.2" y2="606.7" class="ax"/><text x="393.4" y="610.14" class="yt" style="font-size:9.3px">1.0</text><line x1="394.7" y1="636.6" x2="400.2" y2="636.6" class="ax"/><text x="393.4" y="640.04" class="yt" style="font-size:9.3px">0.5</text><line x1="394.7" y1="666.5" x2="400.2" y2="666.5" class="ax"/><text x="393.4" y="669.94" class="yt" style="font-size:9.3px">0.0</text><line x1="394.7" y1="696.8" x2="400.2" y2="696.8" class="ax"/><text x="393.4" y="700.24" class="yt" style="font-size:9.3px">-0.5</text><line x1="394.7" y1="726.5" x2="400.2" y2="726.5" class="ax"/><text x="393.4" y="729.94" class="yt" style="font-size:9.3px">-1.0</text><line x1="394.7" y1="726.5" x2="480.7" y2="726.5" class="ax"/><line x1="423" y1="726.5" x2="423" y2="732" class="ax"/><line x1="457.3" y1="726.5" x2="457.3" y2="732" class="ax"/><line x1="423.2" y1="659" x2="423.2" y2="666.75" class="wh"/><line x1="423.2" y1="698" x2="423.2" y2="700.1" class="wh"/><line x1="417.7" y1="659" x2="428.7" y2="659" class="wh"/><line x1="417.7" y1="700.1" x2="428.7" y2="700.1" class="wh"/><rect x="412.9" y="666.75" width="20.6" height="31.25" fill="#7f7f7f" class="bx"/><line x1="412.9" y1="691.9" x2="433.5" y2="691.9" class="md"/><line x1="399.55" y1="666.65" x2="480.7" y2="666.65" class="dot" stroke-dasharray="1.3 2.32"/><line x1="457.55" y1="615.1" x2="457.55" y2="616.7" class="wh"/><line x1="457.55" y1="670.9" x2="457.55" y2="675.8" class="wh"/><line x1="452.05" y1="615.1" x2="463.05" y2="615.1" class="wh"/><line x1="452.05" y1="675.8" x2="463.05" y2="675.8" class="wh"/><rect x="446.8" y="616.7" width="21.5" height="54.2" fill="#a0a0a0" class="bx"/><line x1="446.8" y1="654.6" x2="468.3" y2="654.6" class="md"/><text x="423" y="741.5" class="xl" style="font-size:9.3px">Abx</text><text x="457.3" y="741.5" class="xl" style="font-size:9.3px">C.diff</text><text x="397.5" y="590.6" class="tt" textLength="85.7" lengthAdjust="spacingAndGlyphs">D-Aspartic acid</text><text transform="translate(370.75,666.4) rotate(-90)" class="yl" style="font-size:9.81px" textLength="96.2" lengthAdjust="spacingAndGlyphs">Relative abundance</text></g>
<text x="86.9" y="92.6" class="lt" style="font-size:13.2px" textLength="8.9" lengthAdjust="spacingAndGlyphs">A</text>
<text x="1.5" y="283" class="lt" style="font-size:12.5px" textLength="7.3" lengthAdjust="spacingAndGlyphs">B</text>
<text x="14.3" y="486.6" class="lt" style="font-size:13.7px" textLength="9.4" lengthAdjust="spacingAndGlyphs">C</text>
<text x="186.4" y="665.8" class="lt" style="font-size:13.2px" textLength="8.8" lengthAdjust="spacingAndGlyphs">D</text>
<text x="550.6" y="733" class="pv" textLength="44.6" lengthAdjust="spacingAndGlyphs">(p &lt; 0.05)</text>
</svg>
</body></html>
